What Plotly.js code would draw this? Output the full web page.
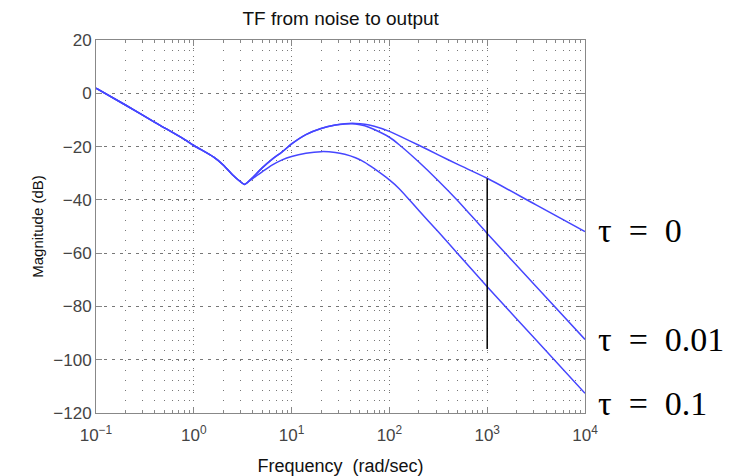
<!DOCTYPE html>
<html>
<head>
<meta charset="utf-8">
<script src="https://cdn.plot.ly/plotly-3.0.1.min.js"></script>
<style>html,body{margin:0;padding:0;background:#fff;}#chart{width:735px;height:476px;}</style>
</head>
<body>
<div id="chart"></div>
<script>
// Frequency points (rad/sec)
const freq = [0.1, 0.2, 0.4, 0.8, 1, 1.6, 2, 2.5, 3, 3.3, 3.6, 4, 5, 6.3, 8, 10, 14, 20, 28, 35, 45, 56, 70, 100, 126, 200, 316, 500, 1000, 3162, 10000];
// Magnitude (dB) for each tau
const magTau0 = [1.9, -4.4, -10.9, -17.3, -19.6, -24.0, -26.9, -30.7, -33.2, -34.2, -33.2, -31.6, -28.0, -24.8, -22.0, -19.0, -15.5, -13.2, -11.9, -11.4, -11.3, -11.6, -12.4, -14.3, -16.0, -19.5, -23.1, -26.7, -31.9, -41.9, -51.9];
const magTau001 = [1.9, -4.4, -10.9, -17.3, -19.6, -24.0, -26.9, -30.7, -33.2, -34.2, -33.2, -31.6, -28.0, -24.8, -22.0, -19.0, -15.5, -13.2, -11.9, -11.5, -11.5, -12.2, -13.6, -16.5, -19.3, -25.8, -32.8, -40.3, -52.6, -72.5, -92.4];
const magTau01 = [1.9, -4.4, -10.9, -17.3, -19.6, -24.0, -26.9, -30.7, -33.2, -34.2, -33.3, -32.0, -29.5, -27.0, -25.0, -23.7, -22.5, -21.9, -22.2, -22.9, -24.2, -25.9, -28.3, -32.5, -35.8, -44.0, -52.0, -60.2, -72.6, -92.6, -112.6];
// Black vertical marker at 10^3
const markerX = [1000, 1000];
const markerY = [-32, -96];
// Labels
const sp = "\u00A0\u00A0";
const labels = ["\u03C4" + sp + "=" + sp + "0", "\u03C4" + sp + "=" + sp + "0.01", "\u03C4" + sp + "=" + sp + "0.1"];
const labelY = [-51.5, -92.5, -116.5];
const yTicks = [20, 0, -20, -40, -60, -80, -100, -120];
const xTickVals = [0.1, 1, 10, 100, 1000, 10000];
const xTickText = ["10<sup>\u22121</sup>", "10<sup>0</sup>", "10<sup>1</sup>", "10<sup>2</sup>", "10<sup>3</sup>", "10<sup>4</sup>"];

const blue = 'rgb(70,70,255)';
const mk = (y) => ({x: freq, y: y, type: 'scatter', mode: 'lines',
  line: {color: blue, width: 1.5, shape: 'spline', smoothing: 0.8}, hoverinfo: 'skip'});

const traces = [mk(magTau0), mk(magTau001), mk(magTau01),
  {x: markerX, y: markerY, type: 'scatter', mode: 'lines', line: {color: '#000', width: 1.5}, hoverinfo: 'skip'}];

const tickFont = {family: 'Liberation Sans, Arial, sans-serif', size: 17, color: '#444'};

const layout = {
  width: 735, height: 476,
  margin: {l: 96, r: 150, t: 40, b: 63},
  paper_bgcolor: '#fff', plot_bgcolor: '#fff',
  showlegend: false,
  title: {text: 'TF from noise to output', x: 0.4635, xanchor: 'center', y: 0.962, yanchor: 'middle',
    font: {family: 'Liberation Sans, Arial, sans-serif', size: 19, color: '#111'}},
  xaxis: {
    type: 'log', range: [-1, 4], tickvals: xTickVals, ticktext: xTickText,
    showline: true, linecolor: '#888', linewidth: 1, mirror: 'ticks',
    ticks: 'inside', ticklen: 6, tickcolor: '#888', ticklabelstandoff: 7,
    showgrid: true, gridcolor: '#777', griddash: '1px,7px', gridwidth: 1,
    zeroline: false, tickfont: tickFont,
    minor: {dtick: 'D1', ticks: 'inside', ticklen: 3, tickcolor: '#888', showgrid: true, gridcolor: '#777', griddash: '1px,9px', gridwidth: 1},
    title: {text: 'Frequency  (rad/sec)', standoff: 24, font: {family: 'Liberation Sans, Arial, sans-serif', size: 18, color: '#111'}}
  },
  yaxis: {
    range: [-120, 20], tickvals: yTicks,
    showline: true, linecolor: '#888', linewidth: 1, mirror: 'ticks',
    ticks: 'inside', ticklen: 6, tickcolor: '#888',
    showgrid: true, gridcolor: '#777', griddash: '3px,5px', gridwidth: 1,
    zeroline: false, tickfont: tickFont,
    title: {text: 'Magnitude (dB)', standoff: 6, font: {family: 'Liberation Sans, Arial, sans-serif', size: 15, color: '#111'}}
  },
  annotations: labels.map((t, i) => ({
    text: t, xref: 'paper', x: 1.022, xanchor: 'left', yref: 'y', y: labelY[i], yanchor: 'middle',
    showarrow: false, font: {family: 'Liberation Serif, Times New Roman, serif', size: 34, color: '#000'}
  }))
};

Plotly.newPlot('chart', traces, layout, {staticPlot: true, displayModeBar: false});
</script>
</body>
</html>
